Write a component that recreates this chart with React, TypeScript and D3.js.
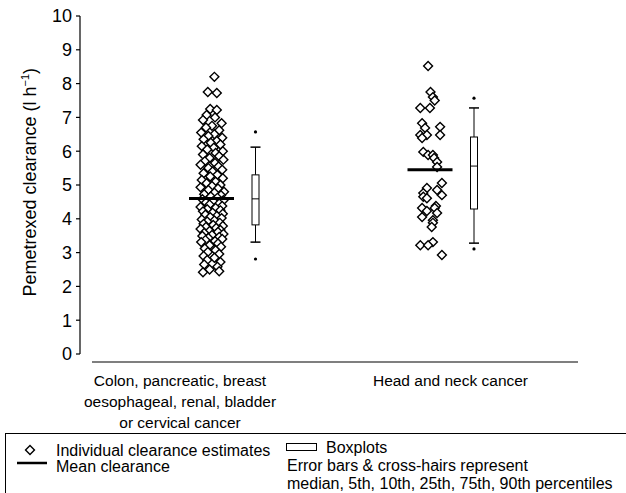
import React from "react";
import * as d3 from "d3";

// ---- data ----
const categories = ["g1", "g2"];
const categoryLabels: string[][] = [
  ["Colon, pancreatic, breast", "oesophageal, renal, bladder", "or cervical cancer"],
  ["Head and neck cancer"],
];
const yTicks = [0, 1, 2, 3, 4, 5, 6, 7, 8, 9, 10];

// [clearance (l/h), horizontal jitter (-1..1)]
const group1Points: [number, number][] = [
  [8.2, 0.2], [7.75, -0.35], [7.72, 0.4],
  [7.25, -0.15], [7.22, 0.4], [7.07, -0.45], [7.0, 0.25], [6.92, -0.75], [6.83, 0.8], [6.75, 0.0],
  [6.7, -0.5], [6.62, 0.6], [6.55, -0.9], [6.5, 0.2], [6.45, -0.3], [6.4, 0.85], [6.35, -0.7],
  [6.3, 0.4], [6.25, -0.1], [6.2, 0.7], [6.15, -0.85], [6.1, 0.15], [6.05, -0.4], [6.0, 0.9],
  [5.95, 0.3], [5.9, -0.75], [5.85, 0.6], [5.8, -0.2], [5.75, 0.95], [5.7, -0.6], [5.65, 0.25],
  [5.6, -0.95], [5.55, 0.55], [5.5, -0.3], [5.45, 0.85], [5.4, 0.05], [5.35, -0.7], [5.3, 0.45],
  [5.25, -0.15], [5.2, 0.9], [5.15, -0.85], [5.1, 0.3], [5.05, -0.45], [5.0, 0.7], [4.97, 0.0],
  [4.93, -0.95], [4.9, 0.5], [4.85, -0.3], [4.8, 1.0], [4.77, 0.2], [4.73, -0.65], [4.7, 0.75],
  [4.66, -0.1], [4.62, 0.45], [4.58, -0.8], [4.55, 0.95], [4.52, 0.1], [4.48, -0.5], [4.45, 0.6],
  [4.42, -0.2], [4.38, 0.85], [4.35, -0.95], [4.32, 0.3], [4.28, -0.4], [4.25, 0.7], [4.22, -0.75],
  [4.18, 0.05], [4.15, 0.9], [4.12, -0.55], [4.08, 0.4], [4.05, -0.15], [4.02, 0.8], [3.98, -0.85],
  [3.95, 0.2], [3.92, -0.4], [3.88, 0.65], [3.85, -0.7], [3.82, 0.1], [3.79, 0.9], [3.76, -0.5],
  [3.73, 0.35], [3.7, -0.95], [3.67, 0.7], [3.64, -0.2], [3.61, 0.5], [3.58, -0.65], [3.55, 0.95],
  [3.52, 0.0], [3.49, -0.8], [3.46, 0.6], [3.43, -0.3], [3.4, 0.85], [3.37, -0.55], [3.34, 0.25],
  [3.31, -0.9], [3.27, 0.5], [3.22, -0.2], [3.17, 0.75], [3.12, -0.6], [3.07, 0.3], [3.02, -0.35],
  [2.96, 0.6], [2.9, -0.7], [2.85, 0.2], [2.78, -0.4], [2.72, 0.7], [2.65, -0.65], [2.58, 0.45],
  [2.5, -0.2], [2.42, -0.75], [2.45, 0.6],
];
const group2Points: [number, number][] = [
  [8.52, -0.2], [7.75, 0.0], [7.6, 0.2], [7.5, 0.35], [7.28, -0.85], [7.28, -0.05],
  [6.83, -0.7], [6.69, -0.45], [6.72, 0.8], [6.48, -0.85], [6.48, -0.3], [6.48, 0.8], [6.39, -0.7],
  [5.98, -0.6], [5.89, -0.2], [5.89, 0.2], [5.8, 0.3], [5.68, 0.55], [5.53, 0.55],
  [5.06, 0.95], [4.91, -0.3], [4.85, 0.55], [4.76, -0.6], [4.7, 0.95], [4.65, -0.6], [4.61, -0.3],
  [4.38, 0.45], [4.32, -0.7], [4.32, 0.35], [4.23, -0.3], [4.17, 0.55], [4.05, -0.7], [3.96, 0.2],
  [3.88, 0.2], [3.76, 0.1], [3.31, 0.2], [3.22, -0.85], [3.22, -0.2], [2.93, 0.95],
];
const pointsByGroup = [group1Points, group2Points];
const means = [4.6, 5.45];
// [p5, p10, p25, median, p75, p90, p95]
const boxStats: number[][] = [
  [2.81, 3.31, 3.82, 4.59, 5.3, 6.12, 6.57],
  [3.11, 3.28, 4.29, 5.56, 6.42, 7.28, 7.57],
];

// ---- layout ----
const W = 626;
const H = 493;
const FONT = "'Liberation Sans', Arial, Helvetica, sans-serif";
const FS = 15.5;
const LFS = 16;

export default function App() {
  const y = d3.scaleLinear().domain([0, 10]).range([354, 16]);
  const x = d3.scalePoint<string>().domain(categories).range([212, 430.5]);
  const jitter = d3.scaleLinear().domain([-1, 1]).range([-12, 12]);
  const boxOffset = 43.5;
  const labelOffsets = [-32, 20];
  const diamond = d3.symbol().type(d3.symbolSquare).size(40)();
  const axisX = 80;

  return (
    <svg width={W} height={H} style={{ position: "absolute", left: 0, top: 0, background: "#fff" }} fontFamily={FONT}>
      {/* y axis */}
      <line x1={axisX} x2={axisX} y1={y(10)} y2={y(0)} stroke="#000" strokeWidth={1.2} />
      {yTicks.map((t) => (
        <g key={t}>
          <line x1={axisX - 4} x2={axisX} y1={y(t)} y2={y(t)} stroke="#000" strokeWidth={1.2} />
          <text x={axisX - 8} y={y(t)} dy="0.36em" textAnchor="end" fontSize={18}>{t}</text>
        </g>
      ))}
      <text transform={`translate(36,${y(5.08)}) rotate(-90)`} textAnchor="middle" fontSize={18}>
        Pemetrexed clearance (l h<tspan dy={-7} fontSize={11}>−1</tspan><tspan dy={7}>)</tspan>
      </text>
      {/* x axis */}
      <line x1={92} x2={578} y1={362} y2={362} stroke="#000" strokeWidth={1.2} />
      {categories.map((c, i) => (
        <text key={c} x={(x(c) as number) + labelOffsets[i]} y={386} textAnchor="middle" fontSize={FS}>
          {categoryLabels[i].map((l, j) => (
            <tspan key={j} x={(x(c) as number) + labelOffsets[i]} dy={j === 0 ? 0 : 21}>{l}</tspan>
          ))}
        </text>
      ))}
      {/* points */}
      {categories.map((c, i) => (
        <g key={c}>
          {pointsByGroup[i].map(([v, j], k) => (
            <path key={k} d={diamond} transform={`translate(${(x(c) as number) + jitter(j)},${y(v)}) rotate(45)`}
              fill="#fff" stroke="#000" strokeWidth={1.4} />
          ))}
          <line x1={(x(c) as number) - 23} x2={(x(c) as number) + 22} y1={y(means[i])} y2={y(means[i])} stroke="#000" strokeWidth={3} />
        </g>
      ))}
      {/* boxplots */}
      {categories.map((c, i) => {
        const [p5, p10, p25, med, p75, p90, p95] = boxStats[i];
        const cx = (x(c) as number) + boxOffset;
        return (
          <g key={c} stroke="#000" strokeWidth={1}>
            <line x1={cx} x2={cx} y1={y(p90)} y2={y(p75)} />
            <line x1={cx} x2={cx} y1={y(p25)} y2={y(p10)} />
            <line x1={cx - 5} x2={cx + 5} y1={y(p90)} y2={y(p90)} strokeWidth={1.5} />
            <line x1={cx - 5} x2={cx + 5} y1={y(p10)} y2={y(p10)} strokeWidth={1.5} />
            <rect x={cx - 3.5} y={y(p75)} width={7} height={y(p25) - y(p75)} fill="#fff" />
            <line x1={cx - 3.5} x2={cx + 3.5} y1={y(med)} y2={y(med)} />
            <circle cx={cx} cy={y(p95)} r={1.6} fill="#000" stroke="none" />
            <circle cx={cx} cy={y(p5)} r={1.6} fill="#000" stroke="none" />
          </g>
        );
      })}
      {/* legend */}
      <rect x={5.5} y={433.5} width={640} height={80} fill="none" stroke="#000" strokeWidth={1} />
      <path d={diamond} transform="translate(30,450) rotate(45)" fill="#fff" stroke="#000" strokeWidth={1.4} />
      <text x={56} y={456} fontSize={LFS}>Individual clearance estimates</text>
      <line x1={17} x2={47} y1={463} y2={463} stroke="#000" strokeWidth={2.5} />
      <text x={56} y={472} fontSize={LFS}>Mean clearance</text>
      <rect x={286.5} y={443.5} width={30} height={7} fill="#fff" stroke="#000" strokeWidth={1} />
      <text x={326} y={453} fontSize={LFS}>Boxplots</text>
      <text x={287} y={471} fontSize={LFS}>Error bars &amp; cross-hairs represent</text>
      <text x={287} y={489} fontSize={LFS}>median, 5th, 10th, 25th, 75th, 90th percentiles</text>
    </svg>
  );
}
